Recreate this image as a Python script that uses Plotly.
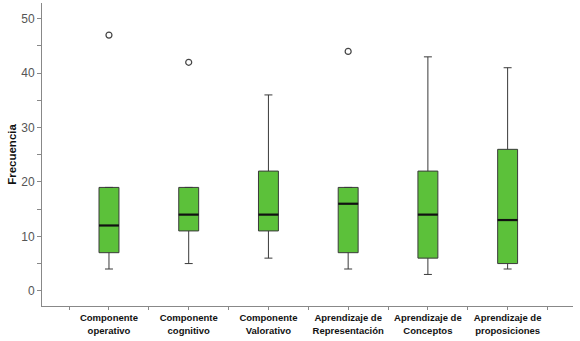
import plotly.graph_objects as go

categories = ["Componente<br>operativo", "Componente<br>cognitivo", "Componente<br>Valorativo",
              "Aprendizaje de<br>Representación", "Aprendizaje de<br>Conceptos", "Aprendizaje de<br>proposiciones"]
lower_whisker = [4, 5, 6, 4, 3, 4]
q1 = [7, 11, 11, 7, 6, 5]
median = [12, 14, 14, 16, 14, 13]
q3 = [19, 19, 22, 19, 22, 26]
upper_whisker = [19, 19, 36, 19, 43, 41]
outlier_idx = [0, 1, 3]
outlier_val = [47, 42, 44]

pos = list(range(len(categories)))
box_w = 0.25

fig = go.Figure()
fig.add_trace(go.Box(
    x=pos, q1=q1, median=median, q3=q3,
    lowerfence=lower_whisker, upperfence=upper_whisker,
    width=box_w, whiskerwidth=0.4,
    fillcolor="#5cc13a", line=dict(color="#3a3a3a", width=1),
    boxpoints=False, showlegend=False, hoverinfo="skip",
))
# thicker median lines
mx, my = [], []
for p, m in zip(pos, median):
    mx += [p - box_w / 2, p + box_w / 2, None]
    my += [m, m, None]
fig.add_trace(go.Scatter(x=mx, y=my, mode="lines", line=dict(color="#111", width=2.2),
                         showlegend=False, hoverinfo="skip"))
fig.add_trace(go.Scatter(x=outlier_idx, y=outlier_val, mode="markers",
                         marker=dict(symbol="circle-open", size=6, color="#444", line=dict(width=1.2)),
                         showlegend=False, hoverinfo="skip"))

fig.update_layout(
    width=580, height=341,
    margin=dict(l=42, r=7, t=3, b=35),
    paper_bgcolor="white", plot_bgcolor="white",
    font=dict(family="Liberation Sans, Arial, sans-serif", color="#444"),
)
fig.update_xaxes(
    range=[-0.84, 5.82], tickmode="array", tickvals=pos,
    ticktext=["<b>" + c + "</b>" for c in categories],
    tickfont=dict(size=9.5, color="#111"),
    showgrid=False, zeroline=False, showline=True, linecolor="#888", linewidth=1,
    ticks="outside", ticklen=3, tickcolor="#888",
    minor=dict(tickvals=[p - 0.5 for p in pos] + [pos[-1] + 0.5], ticks="outside", ticklen=3, tickcolor="#888"),
)
fig.update_yaxes(
    range=[-2.8, 52.9], tickmode="array", tickvals=[0, 10, 20, 30, 40, 50],
    tickfont=dict(size=12, color="#555"),
    showgrid=False, zeroline=False, showline=True, linecolor="#888", linewidth=1,
    ticks="outside", ticklen=4, tickcolor="#888",
    minor=dict(tickvals=[5, 15, 25, 35, 45], ticks="outside", ticklen=4, tickcolor="#888"),
    title=dict(text="<b>Frecuencia</b>", font=dict(size=11.5, color="#111"), standoff=2),
)
fig.write_html("out.html")
